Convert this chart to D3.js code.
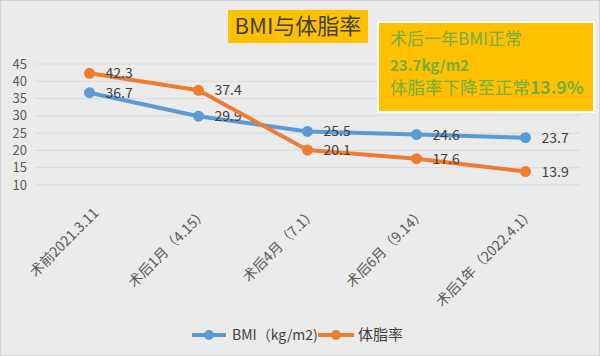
<!DOCTYPE html>
<html><head><meta charset="utf-8">
<script src="https://cdn.jsdelivr.net/npm/d3@7"></script>
<style>html,body{margin:0;padding:0;background:#ebebeb}svg{display:block}</style>
</head><body>
<script>
const categories = ["术前2021.3.11", "术后1月（4.15）", "术后4月（7.1）", "术后6月（9.14）", "术后1年（2022.4.1）"];
const bmiValues = [36.7, 29.9, 25.5, 24.6, 23.7];
const fatValues = [42.3, 37.4, 20.1, 17.6, 13.9];
const yTicks = [10, 15, 20, 25, 30, 35, 40, 45];
const seriesNames = ["BMI（kg/m2)", "体脂率"];
const titleText = "BMI与体脂率";
const noteLines = [
  [{t:"术后一年BMI正常", b:false}],
  [{t:"23.7kg/m2", b:true}],
  [{t:"体脂率下降至正常", b:false},{t:"13.9%", b:true}]
];

const W = 600, H = 356;
const font = "'Noto Sans CJK SC', 'Noto Sans', sans-serif";
const blue = "#5b9bd5", orange = "#ed7d31";
const svg = d3.select("body").append("svg").attr("width", W).attr("height", H);
svg.append("rect").attr("x",0.5).attr("y",0.5).attr("width",W-1).attr("height",H-1)
  .attr("fill","#ebebeb").attr("stroke","#d4d4d4");

const x = d3.scalePoint().domain(categories).range([35, 580]).padding(0.5);
const y = d3.scaleLinear().domain([10, 45]).range([185, 64]);

// grid
svg.append("g").selectAll("line").data(yTicks).join("line")
  .attr("x1", 35).attr("x2", 580)
  .attr("y1", d => y(d)).attr("y2", d => y(d))
  .attr("stroke", "#d9d9d9").attr("stroke-width", 1);

// y axis labels
svg.append("g").selectAll("text").data(yTicks).join("text")
  .attr("x", 27).attr("y", d => y(d) + 4.5)
  .attr("text-anchor", "end").attr("font-family", font).attr("font-size", 13)
  .attr("fill", "#595959").text(d => d);

// x labels
svg.append("g").selectAll("text").data(categories).join("text")
  .attr("transform", d => `translate(${x(d) + 10},214) rotate(-45)`)
  .attr("text-anchor", "end").attr("font-family", font).attr("font-size", 14)
  .attr("fill", "#595959").text(d => d);

function drawSeries(vals, color) {
  const line = d3.line().x((d,i) => x(categories[i])).y(d => y(d));
  svg.append("path").datum(vals).attr("d", line).attr("fill","none")
    .attr("stroke", color).attr("stroke-width", 4).attr("stroke-linejoin","round");
  svg.append("g").selectAll("circle").data(vals).join("circle")
    .attr("cx", (d,i) => x(categories[i])).attr("cy", d => y(d)).attr("r", 5.5)
    .attr("fill", color);
  svg.append("g").selectAll("text").data(vals).join("text")
    .attr("x", (d,i) => x(categories[i]) + 16).attr("y", d => y(d) + 5)
    .attr("font-family", font).attr("font-size", 14).attr("fill", "#404040")
    .text(d => d.toFixed(1));
}
drawSeries(bmiValues, blue);
drawSeries(fatValues, orange);

// title
svg.append("rect").attr("x", 228).attr("y", 10).attr("width", 140).attr("height", 33).attr("fill", "#ffc000");
svg.append("text").attr("x", 298).attr("y", 34).attr("text-anchor","middle")
  .attr("font-family", font).attr("font-size", 22).attr("fill", "#404040").text(titleText);

// note box
svg.append("rect").attr("x", 378).attr("y", 22).attr("width", 216).attr("height", 90)
  .attr("fill", "#ffc000").attr("stroke", "#ffffff").attr("stroke-width", 2);
const noteY = [45, 71, 94], noteSize = [17, 15, 17.5];
noteLines.forEach((ln, i) => {
  const t = svg.append("text").attr("x", 390).attr("y", noteY[i])
    .attr("font-family", font).attr("font-size", noteSize[i]).attr("fill", "#73ae42");
  ln.forEach(p => t.append("tspan").attr("font-weight", p.b ? "bold" : "normal").text(p.t));
});

// legend
const legend = [{name: seriesNames[0], color: blue, x1: 192, x2: 226, tx: 232, fs: 14},
                {name: seriesNames[1], color: orange, x1: 318, x2: 354, tx: 358, fs: 15}];
legend.forEach(l => {
  svg.append("line").attr("x1", l.x1).attr("x2", l.x2).attr("y1", 335).attr("y2", 335)
    .attr("stroke", l.color).attr("stroke-width", 4);
  svg.append("circle").attr("cx", (l.x1 + l.x2) / 2).attr("cy", 335).attr("r", 5).attr("fill", l.color);
  svg.append("text").attr("x", l.tx).attr("y", 340).attr("font-family", font)
    .attr("font-size", l.fs).attr("fill", "#404040").text(l.name);
});
</script>
</body></html>
